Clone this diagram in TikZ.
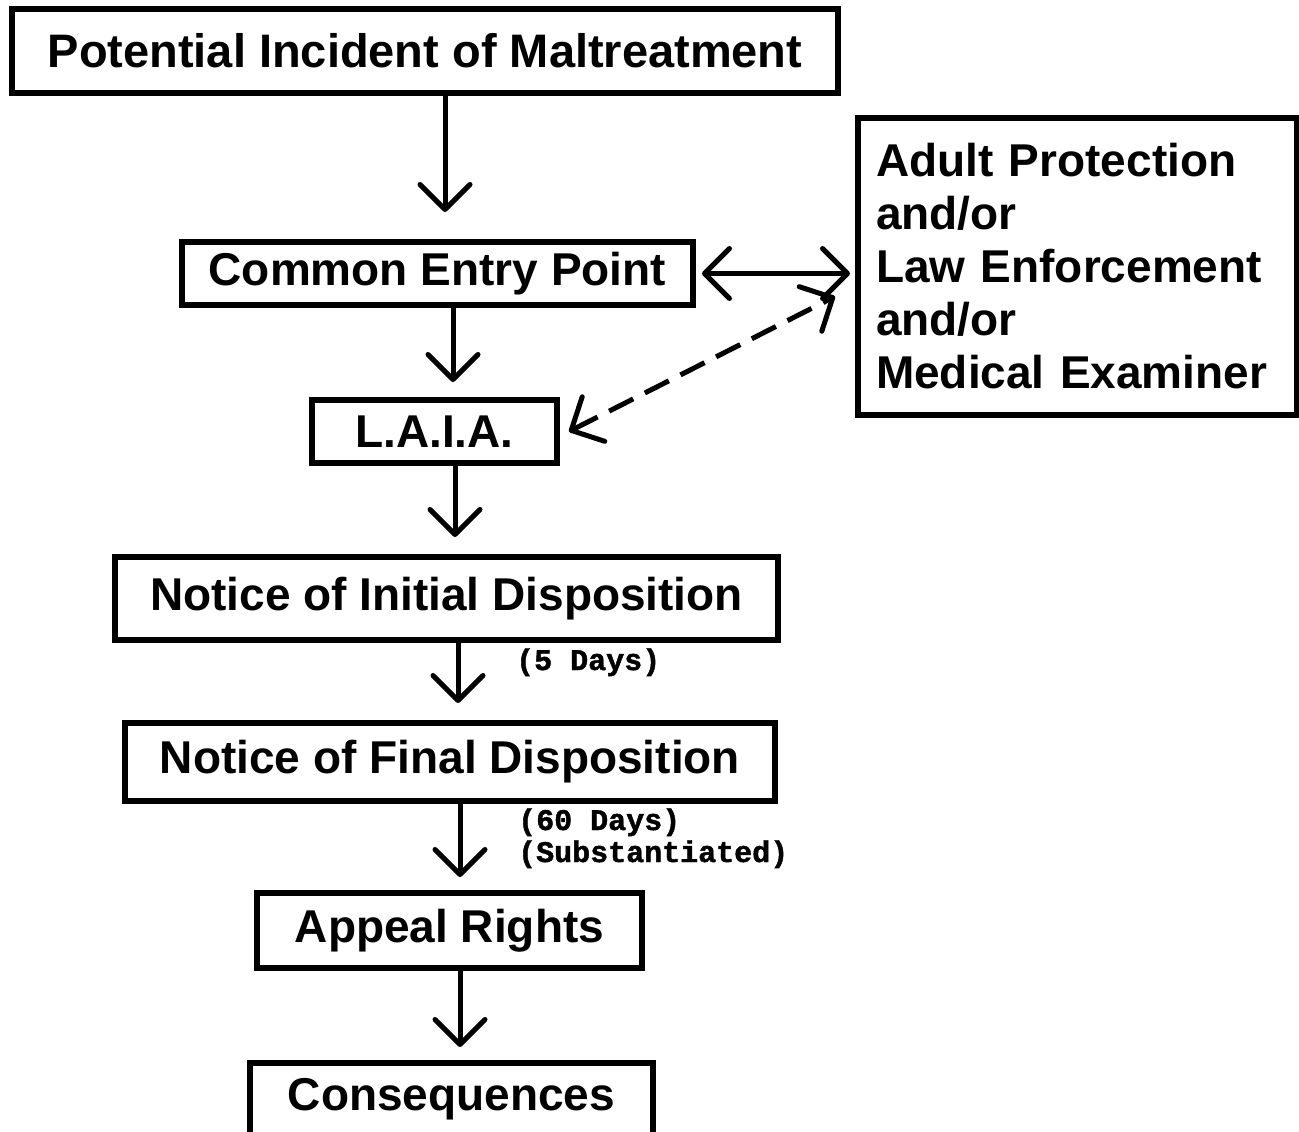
\documentclass[tikz,border=0pt]{standalone}
\usepackage{fontspec}
\setmainfont{Liberation Sans}
\newfontfamily\lblfont{Liberation Mono}[BoldFeatures={FakeBold=1.5}]
\usetikzlibrary{arrows.meta}
\begin{document}
\begin{tikzpicture}[x=1pt,y=-1pt,
  box/.style={draw, line width=6pt, inner sep=0pt,
    font=\fontsize{46}{53}\selectfont\bfseries},
  lbl/.style={inner sep=0pt, anchor=base west,
    font=\lblfont\bfseries\fontsize{30}{33}\selectfont},
  tipv/.tip={Straight Barb[length=25pt,width=50pt,round]},
  arr/.style={line width=5pt, -tipv},
  arrtwo/.style={line width=5pt, tipv-tipv}
]
\useasboundingbox (0,0) rectangle (1299,1132);

\node[box, minimum width=826pt, minimum height=84pt, font=\fontsize{47}{53}\selectfont\bfseries] (b1) at (425,51) {Potential Incident of Maltreatment};
\node[box, minimum width=511pt, minimum height=63pt] (b2) at (437.5,273.5) {Common Entry Point};
\node[box, minimum width=245pt, minimum height=63pt] (b3) at (434.5,431.5) {L.A.I.A.};
\node[box, minimum width=663pt, minimum height=83pt] (b4) at (446.5,598.5) {Notice of Initial Disposition};
\node[box, minimum width=650pt, minimum height=78pt] (b5) at (450,762) {Notice of Final Disposition};
\node[box, minimum width=385pt, minimum height=75pt] (b6) at (449.5,930.5) {Appeal Rights};
\node[box, minimum width=403pt, minimum height=73pt] (b7) at (451.5,1099.5) {Consequences};
\node[box, minimum width=439pt, minimum height=297pt, inner xsep=18pt,
      text width=403pt, align=left] (b8) at (1077.5,266.5)
  {\raisebox{4pt}{\parbox{403pt}{Adult Protection\\and/or\\Law Enforcement\\and/or\\Medical Examiner}}};

\coordinate (c1) at (445,0);
\coordinate (c2) at (453,0);
\coordinate (c3) at (455,0);
\coordinate (c4) at (458,0);
\coordinate (c5) at (460,0);

\draw[arr, shorten >=27pt] (b1.south -| c1) -- (b2.north -| c1);
\draw[arr, shorten >=15pt] (b2.south -| c2) -- (b3.north -| c2);
\draw[arr, shorten >=17pt] (b3.south -| c3) -- (b4.north -| c3);
\draw[arr, shorten >=17pt] (b4.south -| c4) -- (b5.north -| c4);
\draw[arr, shorten >=13pt] (b5.south -| c5) -- (b6.north -| c5);
\draw[arr, shorten >=13pt] (b6.south -| c5) -- (b7.north -| c5);

\draw[arrtwo, shorten <=6pt, shorten >=5pt] (b2.east) -- (b2.east -| b8.west);
\draw[arrtwo, dash pattern=on 27pt off 13pt] ([xshift=9pt]b3.east) -- ([xshift=-20pt,yshift=-30pt]b8.west);

\node[lbl] (l1) at (516,670) {(5 Days)};
\node[lbl] (l2) at (518,830) {(60 Days)};
\node[lbl] (l3) at (518,862) {(Substantiated)};
\end{tikzpicture}
\end{document}
